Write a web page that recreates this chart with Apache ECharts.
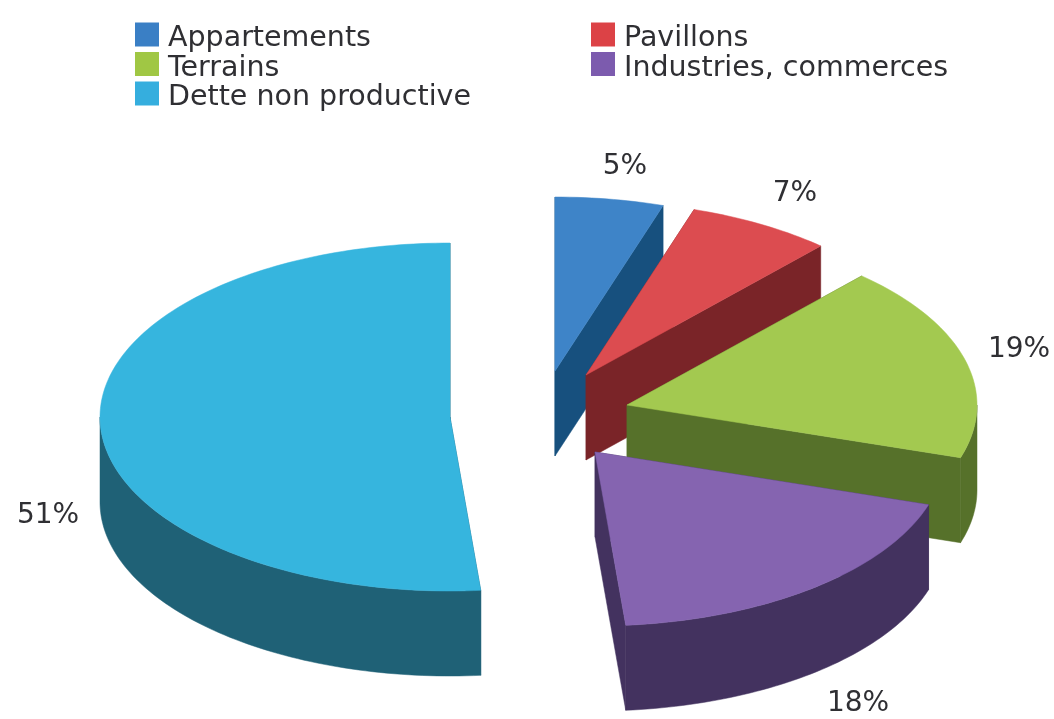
<!DOCTYPE html>
<html>
<head>
<meta charset="utf-8">
<title>Dette</title>
<style>
	html, body { margin: 0; padding: 0; background: #fff; }
	#chart { width: 1054px; height: 719px; }
</style>
<script src="https://cdn.jsdelivr.net/npm/echarts@6/dist/echarts.min.js"></script>
</head>
<body>
<div id="chart"></div>
<script>
var categories = ['Appartements', 'Pavillons', 'Terrains', 'Industries, commerces', 'Dette non productive'];
/* printed percentages */
var printedLabels = ['5%', '7%', '19%', '18%', '51%'];
/* slice sizes as drawn in the picture, they differ a little from the printed numbers */
var sliceShares = [5, 6.7, 18.2, 18.7, 51.4];

var topColors = ['#3e84c8', '#dc4c50', '#a3c950', '#8564b0', '#36b5de'];
var sideColors = ['#17507e', '#7a2428', '#56712a', '#43325f', '#1f6176'];
var legendColors = ['#3a7fc5', '#dc4246', '#a0c744', '#7c5bae', '#35aede'];

/* layout : exploded slice centres and label centres */
var centers = [[555, 371], [586, 375], [627, 405], [595, 452], [450, 417]];
var labelCenters = [[625, 167], [795, 194], [1019, 350], [858, 704], [48, 516]];
var radiusX = 350;
var radiusY = 174;
var depth = 85;
var fontName = '"DejaVu Sans", sans-serif';

function point(center, share, drop) {
	var a = share / 100 * Math.PI * 2;
	return [center[0] + radiusX * Math.sin(a), center[1] - radiusY * Math.cos(a) + drop];
}

function arcPoints(center, from, to, drop) {
	var list = [];
	var steps = Math.max(2, Math.ceil((to - from) * 3));
	for (var i = 0; i <= steps; i++) {
		list.push(point(center, from + (to - from) * i / steps, drop));
	}
	return list;
}

function polygon(points, color) {
	return {
		type: 'polygon',
		shape: { points: points },
		style: { fill: color, stroke: color, lineWidth: 0.5 },
		silent: true
	};
}

function radialFace(center, share, color) {
	return polygon([
		center,
		point(center, share, 0),
		point(center, share, depth),
		[center[0], center[1] + depth]
	], color);
}

function renderSlice(params, api) {
	var i = params.seriesIndex;
	var from = api.value(0);
	var to = api.value(1);
	var center = centers[i];
	var children = [];

	children.push(radialFace(center, from, sideColors[i]));
	children.push(radialFace(center, to, sideColors[i]));

	/* outer wall, only the part turned to the viewer (front half of the ellipse) */
	var wallFrom = Math.max(from, 25);
	var wallTo = Math.min(to, 75);
	if (wallTo > wallFrom) {
		var upper = arcPoints(center, wallFrom, wallTo, 0);
		var lower = arcPoints(center, wallFrom, wallTo, depth).reverse();
		children.push(polygon(upper.concat(lower), sideColors[i]));
	}

	children.push(polygon([center].concat(arcPoints(center, from, to, 0)), topColors[i]));

	children.push({
		type: 'text',
		silent: true,
		style: {
			text: printedLabels[i],
			x: labelCenters[i][0],
			y: labelCenters[i][1],
			align: 'center',
			verticalAlign: 'middle',
			fill: '#2f2f33',
			font: '28px ' + fontName
		}
	});

	return { type: 'group', children: children };
}

var seriesList = [];
var running = 0;
categories.forEach(function(name, i) {
	seriesList.push({
		name: name,
		type: 'custom',
		coordinateSystem: 'none',
		renderItem: renderSlice,
		itemStyle: { color: legendColors[i] },
		data: [[running, running + sliceShares[i]]],
		animation: false,
		silent: true
	});
	running += sliceShares[i];
});

function legendBlock(left, names) {
	return {
		orient: 'vertical',
		left: left,
		top: 19.5,
		padding: 0,
		itemWidth: 24,
		itemHeight: 24,
		itemGap: -4.5,
		itemStyle: { borderWidth: 0 },
		icon: 'rect',
		selectedMode: false,
		data: names,
		formatter: '{t|{name}}',
		textStyle: {
			rich: {
				t: {
					color: '#2f2f33',
					fontFamily: fontName,
					fontSize: 28.5,
					lineHeight: 30,
					verticalAlign: 'top',
					padding: [5, 0, 0, 4]
				}
			}
		}
	};
}

var chart = echarts.init(document.getElementById('chart'), null, { renderer: 'canvas' });
chart.setOption({
	backgroundColor: '#ffffff',
	animation: false,
	legend: [
		legendBlock(135, [categories[0], categories[2], categories[4]]),
		legendBlock(591, [categories[1], categories[3]])
	],
	series: seriesList
});
</script>
</body>
</html>
